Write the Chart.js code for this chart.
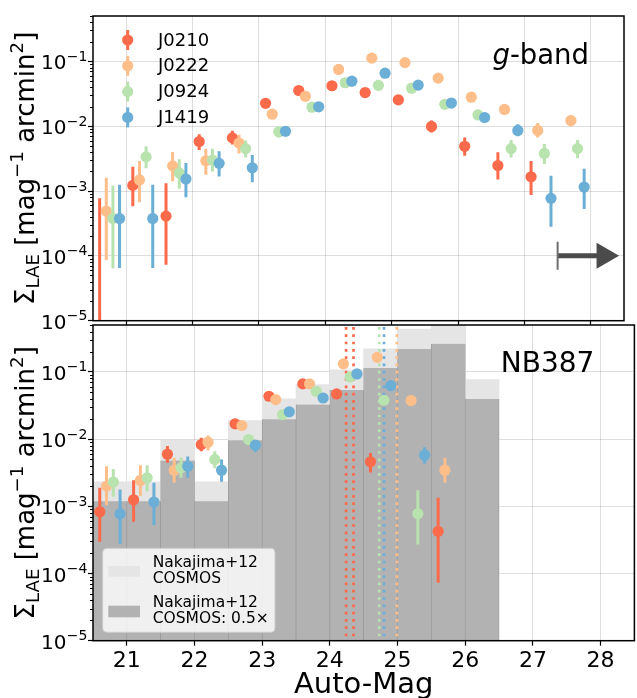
<!DOCTYPE html>
<html><head><meta charset="utf-8">
<script src="https://cdn.jsdelivr.net/npm/chart.js@4.4.1/dist/chart.umd.min.js"></script>
<style>
html,body{margin:0;padding:0;background:#fff;width:637px;height:698px;overflow:hidden;position:relative}
#top{position:absolute;left:0;top:0;z-index:2}
#bot{position:absolute;left:0;top:300px;z-index:1}
</style></head><body>
<canvas id="bot" width="640" height="398"></canvas>
<canvas id="top" width="640" height="340"></canvas>
<script>
const family = "DejaVu Sans";
const xTicks = [21, 22, 23, 24, 25, 26, 27, 28];
const xMin = 20.5, xMax = 28.5;
const yMin = 1e-5, yMax = 0.5;
const seriesNames = ['J0210', 'J0222', 'J0924', 'J1419'];
const seriesColors = ['#fb6a4a', '#fdbe8a', '#b8e2ae', '#6baed6'];

// ---- g-band panel ----
const gMag0210 = [20.6, 21.1, 21.6, 22.1, 22.6, 23.1, 23.6, 24.1, 24.6, 25.1, 25.6, 26.1, 26.6, 27.1];
const gVal0210 = [5e-6, 1.22e-3, 4.1e-4, 5.8e-3, 6.6e-3, 2.25e-2, 3.55e-2, 4.2e-2, 3.3e-2, 2.55e-2, 9.9e-3, 4.9e-3, 2.47e-3, 1.66e-3];
const gLo0210  = [1e-7, 5.8e-4, 7.3e-5, 4.3e-3, 5.2e-3, null, null, null, null, null, 8.0e-3, 3.5e-3, 1.5e-3, 8.7e-4];
const gHi0210  = [7.7e-4, 2.36e-3, 1.32e-3, 7.5e-3, 8.5e-3, null, null, null, null, null, 1.22e-2, 6.7e-3, 3.95e-3, 2.9e-3];

const gMag0222 = [20.7, 21.2, 21.7, 22.2, 22.7, 23.2, 23.7, 24.2, 24.7, 25.2, 25.7, 26.2, 26.7, 27.2, 27.7];
const gVal0222 = [4.9e-4, 1.48e-3, 2.44e-3, 2.93e-3, 5.5e-3, 1.53e-2, 2.89e-2, 7.5e-2, 0.112, 0.0955, 5.5e-2, 2.8e-2, 1.81e-2, 8.6e-3, 1.22e-2];
const gLo0222  = [8.6e-5, 6.7e-4, 1.42e-3, 1.78e-3, 3.8e-3, null, null, null, null, null, null, null, null, 6.7e-3, 1.0e-2];
const gHi0222  = [1.6e-3, 2.9e-3, 4.0e-3, 4.5e-3, 7.4e-3, null, null, null, null, null, null, null, null, 1.12e-2, 1.46e-2];

const gMag0924 = [20.8, 21.3, 21.8, 22.3, 22.8, 23.3, 23.8, 24.3, 24.8, 25.3, 25.8, 26.3, 26.8, 27.3, 27.8];
const gVal0924 = [3.77e-4, 3.36e-3, 1.9e-3, 3.0e-3, 4.5e-3, 8.2e-3, 1.96e-2, 4.67e-2, 4.26e-2, 3.85e-2, 2.17e-2, 1.49e-2, 4.5e-3, 3.8e-3, 4.5e-3];
const gLo0924  = [6.4e-5, 2.24e-3, 1.08e-3, 2.0e-3, 3.3e-3, 6.7e-3, null, null, null, null, null, null, 3.3e-3, 2.6e-3, 3.2e-3];
const gHi0924  = [1.22e-3, 4.9e-3, 3.1e-3, 4.5e-3, 6.0e-3, 9.8e-3, null, null, null, null, null, null, 6.1e-3, 5.3e-3, 6.1e-3];

const gMag1419 = [20.9, 21.4, 21.9, 22.4, 22.9, 23.4, 23.9, 24.4, 24.9, 25.4, 25.9, 26.4, 26.9, 27.4, 27.9];
const gVal1419 = [3.77e-4, 3.77e-4, 1.53e-3, 2.67e-3, 2.28e-3, 8.35e-3, 1.99e-2, 4.94e-2, 6.56e-2, 4.3e-2, 2.27e-2, 1.36e-2, 8.6e-3, 7.7e-4, 1.15e-3];
const gLo1419  = [6.5e-5, 6.5e-5, 8.0e-4, 1.67e-3, 1.37e-3, 7.0e-3, null, null, null, null, null, null, 7.0e-3, 2.8e-4, 5.3e-4];
const gHi1419  = [1.25e-3, 1.25e-3, 2.7e-3, 4.1e-3, 3.6e-3, 1.0e-2, null, null, null, null, null, null, 1.07e-2, 1.72e-3, 2.2e-3];

const arrowMag = [27.5, 28.12];
const arrowHeadMag = 28.2;
const arrowLevel = 1e-4;

// ---- NB387 panel ----
const nMag0210 = [20.6, 21.1, 21.6, 22.1, 22.6, 23.1, 23.6, 24.1, 24.6, 25.6];
const nVal0210 = [8.3e-4, 1.25e-3, 5.97e-3, 8.3e-3, 1.69e-2, 4.35e-2, 6.64e-2, 4.71e-2, 4.6e-3, 4.24e-4];
const nLo0210  = [2.98e-4, 5.9e-4, 4.45e-3, 6.6e-3, null, null, null, null, 3.2e-3, 7.3e-5];
const nHi0210  = [1.89e-3, 2.44e-3, 7.9e-3, 1.05e-2, null, null, null, null, 6.2e-3, 1.34e-3];

const nMag0222 = [20.7, 21.2, 21.7, 22.2, 22.7, 23.2, 23.7, 24.2, 24.7, 25.2, 25.7];
const nVal0222 = [2.0e-3, 2.43e-3, 3.45e-3, 9.0e-3, 1.59e-2, 3.87e-2, 6.64e-2, 0.132, 0.165, 3.75e-2, 3.45e-3];
const nLo0222  = [1.04e-3, 1.42e-3, 2.24e-3, 6.8e-3, null, null, null, null, null, null, 2.24e-3];
const nHi0222  = [3.95e-3, 4.1e-3, 5.3e-3, 1.13e-2, null, null, null, null, null, null, 5.3e-3];

const nMag0924 = [20.8, 21.3, 21.8, 22.3, 22.8, 23.3, 23.8, 24.3, 24.8, 25.3];
const nVal0924 = [2.29e-3, 2.66e-3, 3.74e-3, 4.98e-3, 9.86e-3, 2.32e-2, 5.15e-2, 8.43e-2, 3.79e-2, 7.76e-4];
const nLo0924  = [1.39e-3, 1.68e-3, 2.66e-3, 3.7e-3, null, null, null, null, null, 2.7e-4];
const nHi0924  = [3.6e-3, 4.1e-3, 5.3e-3, 6.6e-3, null, null, null, null, null, 1.74e-3];

const nMag1419 = [20.9, 21.4, 21.9, 22.4, 22.9, 23.4, 23.9, 24.4, 24.9, 25.4];
const nVal1419 = [7.76e-4, 1.16e-3, 3.95e-3, 3.45e-3, 8.13e-3, 2.55e-2, 4.1e-2, 9.34e-2, 6.25e-2, 5.77e-3];
const nLo1419  = [2.78e-4, 5.26e-4, 2.66e-3, 2.32e-3, 6.4e-3, null, null, null, null, 4.3e-3];
const nHi1419  = [1.78e-3, 2.24e-3, 5.5e-3, 4.98e-3, 9.6e-3, null, null, null, null, 7.6e-3];

const binCenters = [20.75, 21.25, 21.75, 22.25, 22.75, 23.25, 23.75, 24.25, 24.75, 25.25, 25.75, 26.25];
const nakajima      = [2.32e-3, 2.32e-3, 9.6e-3, 2.32e-3, 1.89e-2, 3.97e-2, 6.47e-2, 0.108, 0.22, 0.435, 0.53, 7.7e-2];
const nakajimaHalf  = [1.19e-3, 1.19e-3, 4.8e-3, 1.19e-3, 9.6e-3, 1.98e-2, 3.27e-2, 5.4e-2, 0.115, 0.22, 0.263, 3.97e-2];
const nakajimaLabels = [['Nakajima+12', 'COSMOS'], ['Nakajima+12', 'COSMOS: 0.5×']];

const limitMags   = [24.24, 24.35, 24.73, 24.80, 24.99];
const limitSeries = [0, 0, 2, 3, 1];

const panelLabels = ['g-band', 'NB387'];
const xTitle = 'Auto-Mag';
const yTitleParts = [['Σ', 1, 0], ['LAE', 0.7, 0.2], [' [mag', 1, 0], ['−1', 0.7, -0.42], [' arcmin', 1, 0], ['2', 0.7, -0.42], [']', 1, 0]];

const gridColor = 'rgba(0,0,0,0.13)';
function isDecade(v) { const l = Math.log10(v); return Math.abs(l - Math.round(l)) < 1e-6; }

function seriesDataset(i, mags, vals, lo, hi) {
  return {
    type: 'scatter', label: seriesNames[i],
    data: mags.map((m, k) => ({x: m, y: vals[k]})),
    errLo: lo, errHi: hi,
    backgroundColor: seriesColors[i], borderWidth: 0,
    pointRadius: 5.6, pointHoverRadius: 5.6, order: 3 - i
  };
}

const errorBars = {
  id: 'errorBars',
  beforeDatasetDraw(chart, args) {
    const ds = chart.data.datasets[args.index];
    if (!ds.errLo) return;
    const {ctx, chartArea: a, scales: {x, y}} = chart;
    ctx.save();
    ctx.beginPath(); ctx.rect(a.left, a.top, a.right - a.left, a.bottom - a.top); ctx.clip();
    ctx.strokeStyle = ds.backgroundColor; ctx.lineWidth = 3; ctx.lineCap = 'butt';
    ds.data.forEach((p, i) => {
      const lo = ds.errLo[i], hi = ds.errHi[i];
      if (lo == null || hi == null) return;
      const px = x.getPixelForValue(p.x);
      ctx.beginPath();
      ctx.moveTo(px, y.getPixelForValue(lo));
      ctx.lineTo(px, y.getPixelForValue(hi));
      ctx.stroke();
    });
    ctx.restore();
  }
};

function drawYTitle(ctx, cx, cy, size) {
  ctx.save(); ctx.translate(cx, cy); ctx.rotate(-Math.PI / 2);
  let total = 0;
  const widths = yTitleParts.map(([t, s]) => { ctx.font = `${size * s}px ${family}`; const w = ctx.measureText(t).width; total += w; return w; });
  let x = -total / 2;
  ctx.fillStyle = '#000'; ctx.textAlign = 'left'; ctx.textBaseline = 'alphabetic';
  yTitleParts.forEach(([t, s, dy], i) => { ctx.font = `${size * s}px ${family}`; ctx.fillText(t, x, dy * size); x += widths[i]; });
  ctx.restore();
}

function drawDecadeLabels(ctx, yScale, xRight) {
  ctx.save();
  ctx.fillStyle = '#000'; ctx.textBaseline = 'alphabetic'; ctx.textAlign = 'left';
  yScale.ticks.forEach(t => {
    if (!isDecade(t.value)) return;
    const e = Math.round(Math.log10(t.value));
    const sup = (e < 0 ? '−' : '') + Math.abs(e);
    const py = yScale.getPixelForValue(t.value);
    ctx.font = `14px ${family}`;
    const ws = ctx.measureText(sup).width;
    ctx.font = `20px ${family}`;
    const wb = ctx.measureText('10').width;
    const x0 = xRight - ws - wb;
    ctx.fillText('10', x0, py + 8);
    ctx.font = `14px ${family}`;
    ctx.fillText(sup, x0 + wb + 0.5, py - 0.5);
  });
  ctx.restore();
}

function makeDecor(isBottom) {
  return {
    id: 'decor' + (isBottom ? 'B' : 'T'),
    afterDraw(chart) {
      const {ctx, chartArea: a, scales: {y}} = chart;
      ctx.save();
      ctx.strokeStyle = '#000'; ctx.lineWidth = 1;
      for (let d = -5; d <= 0; d++) {
        for (let k = 2; k <= 9; k++) {
          const v = k * Math.pow(10, d);
          if (v < yMin || v > yMax) continue;
          const py = Math.round(y.getPixelForValue(v)) + 0.5;
          ctx.beginPath(); ctx.moveTo(a.left - 3, py); ctx.lineTo(a.left, py); ctx.stroke();
        }
      }
      ctx.strokeStyle = '#000'; ctx.lineWidth = 1.5;
      ctx.strokeRect(a.left, a.top, a.right - a.left, a.bottom - a.top);
      drawDecadeLabels(ctx, y, a.left - 6);
      drawYTitle(ctx, 34, (a.top + a.bottom) / 2, 26);
      ctx.fillStyle = '#000'; ctx.textBaseline = 'alphabetic';
      if (!isBottom) {
        const xr = a.right - 35, yb = a.top + 47.7;
        ctx.font = `27.5px ${family}`; ctx.textAlign = 'right';
        const rest = panelLabels[0].slice(1);
        ctx.fillText(rest, xr, yb);
        const w = ctx.measureText(rest).width;
        ctx.font = `italic 27.5px ${family}`;
        ctx.fillText(panelLabels[0][0], xr - w, yb);
        ctx.textAlign = 'left'; ctx.textBaseline = 'middle';
        ctx.font = `18px ${family}`;
        seriesNames.forEach((n, i) => {
          const cy = a.top + 24 + i * 25.8, cx = a.left + 34.7;
          ctx.strokeStyle = seriesColors[i]; ctx.lineWidth = 3;
          ctx.beginPath(); ctx.moveTo(cx, cy - 10); ctx.lineTo(cx, cy + 10); ctx.stroke();
          ctx.fillStyle = seriesColors[i];
          ctx.beginPath(); ctx.arc(cx, cy, 5.6, 0, Math.PI * 2); ctx.fill();
          ctx.fillStyle = '#000';
          ctx.fillText(n, a.left + 65, cy + 1);
        });
      } else {
        ctx.font = `28px ${family}`; ctx.textAlign = 'right';
        ctx.fillText(panelLabels[1], a.right - 40, a.top + 46.7);
        ctx.textAlign = 'center'; ctx.font = `29px ${family}`;
        ctx.fillText(xTitle, (a.left + a.right) / 2, a.bottom + 52.6);
        const L = a.left + 9.7, T = a.bottom - 92.4, W = 172.3, H = 84, r = 4;
        ctx.beginPath();
        ctx.moveTo(L + r, T); ctx.lineTo(L + W - r, T); ctx.quadraticCurveTo(L + W, T, L + W, T + r);
        ctx.lineTo(L + W, T + H - r); ctx.quadraticCurveTo(L + W, T + H, L + W - r, T + H);
        ctx.lineTo(L + r, T + H); ctx.quadraticCurveTo(L, T + H, L, T + H - r);
        ctx.lineTo(L, T + r); ctx.quadraticCurveTo(L, T, L + r, T); ctx.closePath();
        ctx.fillStyle = 'rgba(255,255,255,0.8)'; ctx.fill();
        ctx.strokeStyle = '#cccccc'; ctx.lineWidth = 1; ctx.stroke();
        ctx.fillStyle = '#e5e5e5'; ctx.fillRect(L + 5.6, T + 17.7, 31.7, 10.7);
        ctx.fillStyle = '#b2b2b2'; ctx.fillRect(L + 5.6, T + 57.4, 31.7, 11.6);
        ctx.fillStyle = '#000'; ctx.textAlign = 'left'; ctx.textBaseline = 'alphabetic';
        ctx.font = `15.5px ${family}`;
        ctx.fillText(nakajimaLabels[0][0], L + 50, T + 18.4);
        ctx.fillText(nakajimaLabels[0][1], L + 50, T + 35);
        ctx.fillText(nakajimaLabels[1][0], L + 50, T + 58.4);
        ctx.fillText(nakajimaLabels[1][1], L + 50, T + 75);
      }
      ctx.restore();
    }
  };
}

function scalesFor(isBottom) {
  const majorOnly = c => (c.tick && isDecade(c.tick.value)) ? gridColor : 'transparent';
  const majorTick = c => (c.tick && isDecade(c.tick.value)) ? '#000' : 'transparent';
  return {
    x: {
      type: 'linear', min: xMin, max: xMax, offset: false,
      afterBuildTicks: s => { s.ticks = xTicks.map(v => ({value: v})); },
      afterFit: s => { s.height = isBottom ? 57.3 : 19.3; },
      border: {display: false},
      grid: {offset: false, color: gridColor, lineWidth: 1, tickColor: '#000', tickLength: isBottom ? 5 : 4, tickWidth: 1.2},
      ticks: isBottom ? {display: true, color: '#000', padding: 2, font: {family, size: 22}, callback: v => String(v)} : {display: false}
    },
    y: {
      type: 'logarithmic', min: yMin, max: yMax,
      afterFit: s => { s.width = 93; s.paddingTop = 0; s.paddingBottom = 0; },
      border: {display: false},
      grid: {color: majorOnly, lineWidth: 1, tickColor: majorTick, tickLength: 5, tickWidth: 1.2},
      ticks: {display: false, autoSkip: false}
    }
  };
}

function baseOptions(isBottom) {
  return {
    responsive: false, animation: false, devicePixelRatio: 1, events: [],
    layout: {padding: {top: isBottom ? 25 : 4.3, right: 1, left: 0, bottom: 0}},
    plugins: {legend: {display: false}, tooltip: {enabled: false}},
    scales: scalesFor(isBottom)
  };
}

const topDatasets = [
  seriesDataset(0, gMag0210, gVal0210, gLo0210, gHi0210),
  seriesDataset(1, gMag0222, gVal0222, gLo0222, gHi0222),
  seriesDataset(2, gMag0924, gVal0924, gLo0924, gHi0924),
  seriesDataset(3, gMag1419, gVal1419, gLo1419, gHi1419),
  {type: 'line', data: arrowMag.map(m => ({x: m, y: arrowLevel})), borderColor: '#4b4b4b', borderWidth: 5,
   pointRadius: 0, showLine: true, order: 5, borderCapStyle: 'butt'},
  {type: 'scatter', data: [{x: arrowMag[0], y: arrowLevel}, {x: arrowHeadMag, y: arrowLevel}],
   pointStyle: ['line', 'triangle'], rotation: [90, 90], pointRadius: [14, 15], pointHoverRadius: [14, 15],
   borderWidth: [2, 0], borderColor: ['#6e6e6e', '#4b4b4b'], backgroundColor: '#4b4b4b', order: 4}
];
new Chart(document.getElementById('top'), {
  type: 'scatter', data: {datasets: topDatasets}, options: baseOptions(false),
  plugins: [errorBars, makeDecor(false)]
});

const botDatasets = [
  seriesDataset(0, nMag0210, nVal0210, nLo0210, nHi0210),
  seriesDataset(1, nMag0222, nVal0222, nLo0222, nHi0222),
  seriesDataset(2, nMag0924, nVal0924, nLo0924, nHi0924),
  seriesDataset(3, nMag1419, nVal1419, nLo1419, nHi1419),
  ...limitMags.map((m, i) => ({
    type: 'line', data: [{x: m, y: 1e-7}, {x: m, y: 1}], borderColor: seriesColors[limitSeries[i]],
    borderWidth: 2.7, borderDash: [2.7, 4.6], borderCapStyle: 'butt', pointRadius: 0, showLine: true, order: 5, clip: 0
  })),
  {type: 'bar', label: 'Nakajima+12 COSMOS: 0.5×', data: binCenters.map((x, i) => ({x, y: nakajimaHalf[i]})),
   backgroundColor: '#b2b2b2', borderColor: '#999999', borderWidth: {left: 0.7, right: 0.7, top: 0, bottom: 0},
   borderSkipped: false, grouped: false, barPercentage: 1, categoryPercentage: 1, order: 6},
  {type: 'bar', label: 'Nakajima+12 COSMOS', data: binCenters.map((x, i) => ({x, y: nakajima[i]})),
   backgroundColor: '#e5e5e5', borderWidth: 0, grouped: false, barPercentage: 1, categoryPercentage: 1, order: 7}
];
new Chart(document.getElementById('bot'), {
  type: 'scatter', data: {datasets: botDatasets}, options: baseOptions(true),
  plugins: [errorBars, makeDecor(true)]
});
</script>
</body></html>
